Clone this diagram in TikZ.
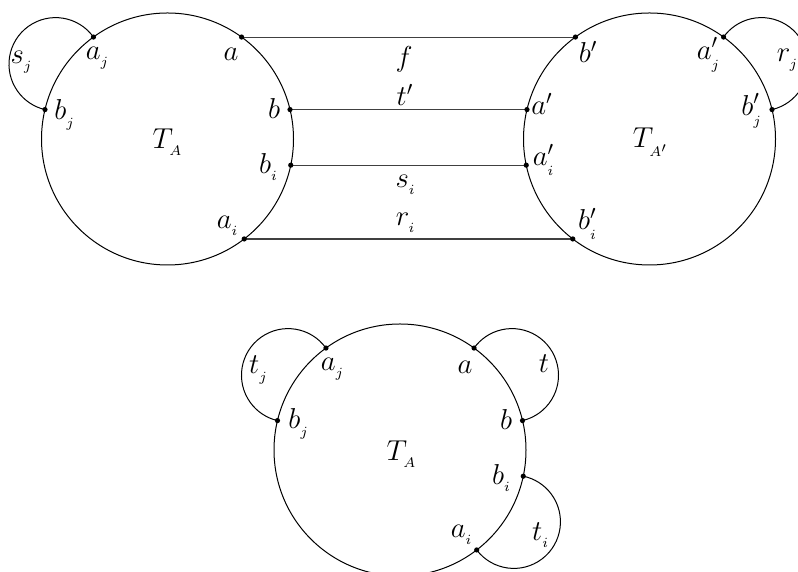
\documentclass[tikz,border=0pt]{standalone}
\usetikzlibrary{calc}
\tikzset{
  big/.style={line width=0.5pt},
  conn/.style={line width=0.55pt, draw=black!75},
  lbl/.style={inner sep=0pt, font=\fontsize{14.4}{17}\selectfont},
}
\newcommand\mydot[1]{\fill (#1) circle[radius=1.3pt];}
\begin{document}
\begin{tikzpicture}[x=0.5pt,y=0.5pt]
\useasboundingbox (0,0) rectangle (798,572);
\clip (0,0) rectangle (798,572);
% centres
\coordinate (OL) at (167.5,433);
\coordinate (OR) at (649.5,433);
\coordinate (OB) at (400,122);
% big circles
\draw[big] (OL) circle[radius=63pt];
\draw[big] (OR) circle[radius=63pt];
\draw[big] (OB) circle[radius=63pt];
% points, left circle
\coordinate (La)  at ($(OL)+(54:63pt)$);
\coordinate (Laj) at ($(OL)+(126:63pt)$);
\coordinate (Lb)  at ($(OL)+(13.5:63pt)$);
\coordinate (Lbj) at ($(OL)+(166.5:63pt)$);
\coordinate (Lbi) at ($(OL)+(-12:63pt)$);
\coordinate (Lai) at ($(OL)+(-52.5:63pt)$);
% points, right circle
\coordinate (Rbp)  at ($(OR)+(126:63pt)$);
\coordinate (Rap)  at ($(OR)+(166.5:63pt)$);
\coordinate (Rapi) at ($(OR)+(192:63pt)$);
\coordinate (Rbpi) at ($(OR)+(232.5:63pt)$);
\coordinate (Rapj) at ($(OR)+(54:63pt)$);
\coordinate (Rbpj) at ($(OR)+(13.5:63pt)$);
% points, bottom circle
\coordinate (Ba)  at ($(OB)+(54:63pt)$);
\coordinate (Baj) at ($(OB)+(126:63pt)$);
\coordinate (Bb)  at ($(OB)+(13.5:63pt)$);
\coordinate (Bbj) at ($(OB)+(166.5:63pt)$);
\coordinate (Bbi) at ($(OB)+(-12:63pt)$);
\coordinate (Bai) at ($(OB)+(-52.5:63pt)$);
% connectors
\draw[conn] (La) -- (Rbp);
\draw[conn] (Lb) -- (Rap);
\draw[conn] (Lbi) -- (Rapi);
\draw[conn] (Lai) -- (Rbpi);
% loops
\draw[big] (Laj) arc[start angle=395.65, delta angle=221.2, radius=23.3pt];
\draw[big] (Rbpj) arc[start angle=283.15, delta angle=221.2, radius=23.3pt];
\draw[big] (Baj) arc[start angle=395.65, delta angle=221.2, radius=23.3pt];
\draw[big] (Bb) arc[start angle=283.15, delta angle=221.2, radius=23.3pt];
\draw[big] (Bai) arc[start angle=217.15, delta angle=221.2, radius=23.3pt];
% dots
\foreach \p in {La,Laj,Lb,Lbj,Lbi,Lai,Rbp,Rap,Rapi,Rbpi,Rapj,Rbpj,Ba,Baj,Bb,Bbj,Bbi,Bai} {\mydot{\p}}
% labels left
\node[lbl] (tsj) at (22,510) {$s_{_j}$};
\node[lbl] (tLaj) at (98,514) {$a_{_j}$};
\node[lbl] (tLa) at (231,518) {$a$};
\node[lbl] (tLbj) at (65,457) {$b_{_j}$};
\node[lbl] (tLb) at (274,463) {$b$};
\node[lbl] (tTA) at (168,430) {$T_{_A}$};
\node[lbl] (tLbi) at (269,405) {$b_{_i}$};
\node[lbl] (tLai) at (228,346) {$a_{_i}$};
% labels middle
\node[lbl] (tf) at (404,513) {$f$};
\node[lbl] (ttp) at (405,477) {$t'$};
\node[lbl] (tsi) at (406,387) {$s_{_i}$};
\node[lbl] (tri) at (406,349) {$r_{_i}$};
% labels right
\node[lbl] (tRbp) at (588,520) {$b'$};
\node[lbl] (tRapj) at (709,517) {$a'_{_j}$};
\node[lbl] (trj) at (788,512) {$r_{_j}$};
\node[lbl] (tRap) at (542,468) {$a'$};
\node[lbl] (tRbpj) at (752,461) {$b'_{_j}$};
\node[lbl] (tTAp) at (651,430) {$T_{_{A'}}$};
\node[lbl] (tRapi) at (544,412) {$a'_{_i}$};
\node[lbl] (tRbpi) at (588,348) {$b'_{_i}$};
% labels bottom
\node[lbl] (ttj) at (259,202) {$t_{_j}$};
\node[lbl] (tBaj) at (333,203) {$a_{_j}$};
\node[lbl] (tBa) at (465,205) {$a$};
\node[lbl] (tt) at (544,208) {$t$};
\node[lbl] (tBbj) at (299,148) {$b_{_j}$};
\node[lbl] (tBb) at (506,152) {$b$};
\node[lbl] (tTB) at (402,118) {$T_{_A}$};
\node[lbl] (tBbi) at (502,94) {$b_{_i}$};
\node[lbl] (tBai) at (462,37) {$a_{_i}$};
\node[lbl] (tti) at (541,37) {$t_{_i}$};
\end{tikzpicture}
\end{document}
